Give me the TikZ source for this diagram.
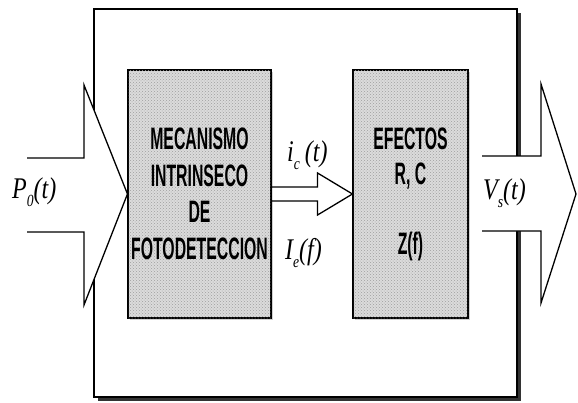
\documentclass[tikz,border=0pt]{standalone}
\usepackage{fontspec}
\setmainfont{Liberation Sans}
\newfontfamily\boxfont[FakeStretch=0.51]{Liberation Sans}
\newfontfamily\labfont[FakeStretch=0.8]{Liberation Serif}
\usetikzlibrary{calc,patterns,shadows}
\tikzset{
  frame/.style={draw, line width=1.3pt, fill=white, inner sep=0pt,
    drop shadow={shadow xshift=4pt, shadow yshift=-4pt, fill=black!80, opacity=1}},
  blockbox/.style={draw, line width=1.1pt, fill=gray!28, inner sep=0pt,
    postaction={pattern=crosshatch dots, pattern color=gray!75},
    drop shadow={shadow xshift=2pt, shadow yshift=-2pt, fill=gray!35, opacity=1},
    align=center, font=\boxfont\bfseries\fontsize{31}{36.5}\selectfont},
  fatarrow/.style={draw, line width=1.3pt, fill=white, line join=miter},
  lab/.style={inner sep=0pt, font=\labfont\itshape\fontsize{30}{30}\selectfont}
}
\newcommand{\labsub}[1]{\raisebox{-0.28em}{\fontsize{17}{17}\selectfont #1}}
\begin{document}
\begin{tikzpicture}[x=1pt,y=-1pt]
\clip (0,0) rectangle (578,402);
\useasboundingbox (0,0) rectangle (578,402);
% outer frame
\node[frame, minimum width=423pt, minimum height=388pt] (outer) at (305.5,203) {};
% blocks
\node[blockbox, minimum width=143pt, minimum height=248pt] (b1) at (199.5,194)
  {MECANISMO\\INTRINSECO\\DE\\FOTODETECCION};
\node[blockbox, minimum width=115pt, minimum height=248pt,
  font=\boxfont\bfseries\fontsize{31}{35}\selectfont] (b2) at (410.5,194)
  {EFECTOS\\R, C\\[35pt]Z(f)};
% input arrow
\path[fatarrow] (27,158) -- (84,158) -- (84,85) -- (b1.west) -- (84,305) -- (84,232) -- (27,232);
% middle arrow
\path[fatarrow] ($(b1.east)+(0,-7)$) -- ++(46,0) -- ++(0,-14) -- (b2.west) -- ($(b1.east)+(46,21)$) -- ++(0,-14) -- ($(b1.east)+(0,7)$) -- cycle;
% output arrow
\coordinate (vout) at (576,194);
\path[fatarrow] (482,156) -- (541,156) -- (541,84) -- (vout) -- (541,303) -- (541,231) -- (482,231);
% labels
\node[lab, anchor=base west] (p0) at (12,198) {P\labsub{0}(t)};
\node[lab, anchor=base west] (ic) at (287,161) {i\labsub{c}\,(t)};
\node[lab, anchor=base west] (ie) at (285,259) {I\labsub{e}(f)};
\node[lab, anchor=base west] (vs) at (483,199) {V\labsub{s}(t)};
\end{tikzpicture}
\end{document}
